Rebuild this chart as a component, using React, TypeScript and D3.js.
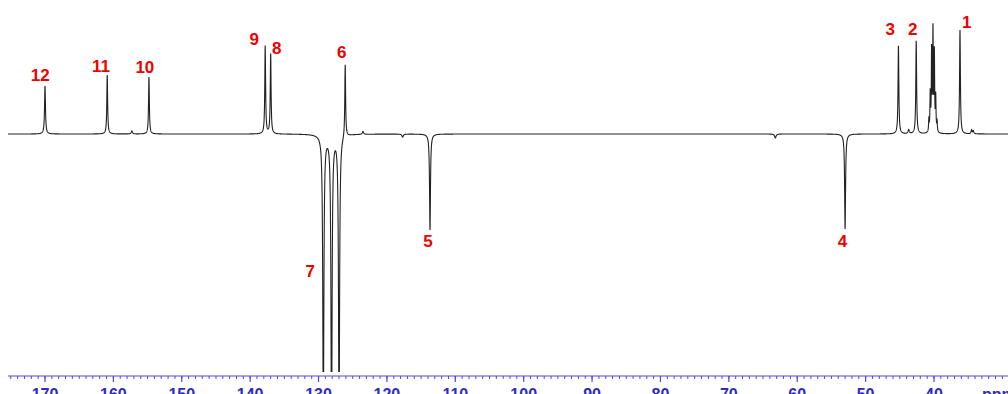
import React from "react";
import * as d3 from "d3";

// Peak list: chemical shift (ppm), intensity (signed), half-width (ppm)
const peakShifts = [170.0, 160.9, 157.3, 154.8, 137.8, 137.0, 126.1, 123.5, 129.3, 128.1, 127.0, 117.7, 113.7, 63.2, 53.0, 45.2, 43.7, 42.6, 40.75, 40.55, 40.35, 40.15, 39.95, 39.75, 39.55, 36.2, 34.5, 34.25];
const peakHeights = [48, 59, 3, 57, 88, 80, 73, 3, -300, -320, -300, -3, -96, -4, -95, 88, 4, 93, 12, 38, 80, 100, 78, 35, 10, 104, 4, 3];
const peakWidths = [0.08, 0.07, 0.1, 0.07, 0.07, 0.07, 0.07, 0.1, 0.09, 0.09, 0.09, 0.12, 0.08, 0.12, 0.08, 0.07, 0.1, 0.07, 0.05, 0.05, 0.05, 0.05, 0.05, 0.05, 0.05, 0.07, 0.08, 0.08];

// Assignment labels
const labelTexts = ["12", "11", "10", "9", "8", "6", "7", "5", "4", "3", "2", "1"];
const labelShifts = [170.7, 161.8, 155.4, 139.4, 136.1, 126.6, 131.2, 114.0, 53.4, 46.4, 43.1, 35.2];
const labelLevels = [53, 62, 61, 89, 80, 76, -143, -113, -113, 99, 99, 106];

// Axis
const majorTicks = [170, 160, 150, 140, 130, 120, 110, 100, 90, 80, 70, 60, 50, 40];
const axisUnit = "ppm";

const W = 1008;
const H = 394;

export default function App() {
  const x = d3.scaleLinear().domain([170, 40]).range([45, 934]);
  const y = d3.scaleLinear().domain([0, 100]).range([134, 34]);
  const ppmLeft = x.invert(8);
  const ppmRight = x.invert(W);

  const pts: [number, number][] = [];
  const step = 0.01;
  for (let p = ppmLeft; p >= ppmRight; p -= step) {
    let s = 0;
    for (let i = 0; i < peakShifts.length; i++) {
      const d = (p - peakShifts[i]) / peakWidths[i];
      s += peakHeights[i] / (1 + d * d);
    }
    pts.push([p, s]);
  }
  const line = d3
    .line<[number, number]>()
    .x((d) => x(d[0]))
    .y((d) => y(d[1]));

  const minorTicks = d3.range(Math.ceil(ppmRight), Math.floor(ppmLeft) + 1, 1);
  const axisY = 376;

  return (
    <svg width={W} height={H} style={{ position: "absolute", left: 0, top: 0, background: "#fff" }}>
      <defs>
        <clipPath id="plotclip">
          <rect x={0} y={0} width={W} height={372} />
        </clipPath>
      </defs>
      <path d={line(pts) || ""} fill="none" stroke="#222" strokeWidth={1.1} clipPath="url(#plotclip)" />
      {/* axis */}
      <line x1={8} x2={W} y1={axisY} y2={axisY} stroke="#4a4ae8" strokeWidth={1.2} />
      {minorTicks.map((t) => (
        <line key={"m" + t} x1={x(t)} x2={x(t)} y1={axisY} y2={axisY + 3} stroke="#4a4ae8" strokeWidth={1} />
      ))}
      {majorTicks.map((t) => (
        <g key={"M" + t}>
          <line x1={x(t)} x2={x(t)} y1={axisY} y2={axisY + 6} stroke="#4a4ae8" strokeWidth={1.2} />
          <text
            x={x(t)}
            y={400}
            textAnchor="middle"
            fontFamily="Liberation Sans, Arial, sans-serif"
            fontWeight="bold"
            fontSize={16}
            fill="#2b2bc8"
          >
            {t}
          </text>
        </g>
      ))}
      <text x={982} y={400} fontFamily="Liberation Sans, Arial, sans-serif" fontWeight="bold" fontSize={16} fill="#2b2bc8">
        {axisUnit}
      </text>
      {/* peak labels */}
      {labelTexts.map((t, i) => (
        <text
          key={"l" + i}
          x={x(labelShifts[i])}
          y={y(labelLevels[i])}
          textAnchor="middle"
          fontFamily="Liberation Sans, Arial, sans-serif"
          fontWeight="bold"
          fontSize={17}
          fill="#ee0000"
        >
          {t}
        </text>
      ))}
    </svg>
  );
}
